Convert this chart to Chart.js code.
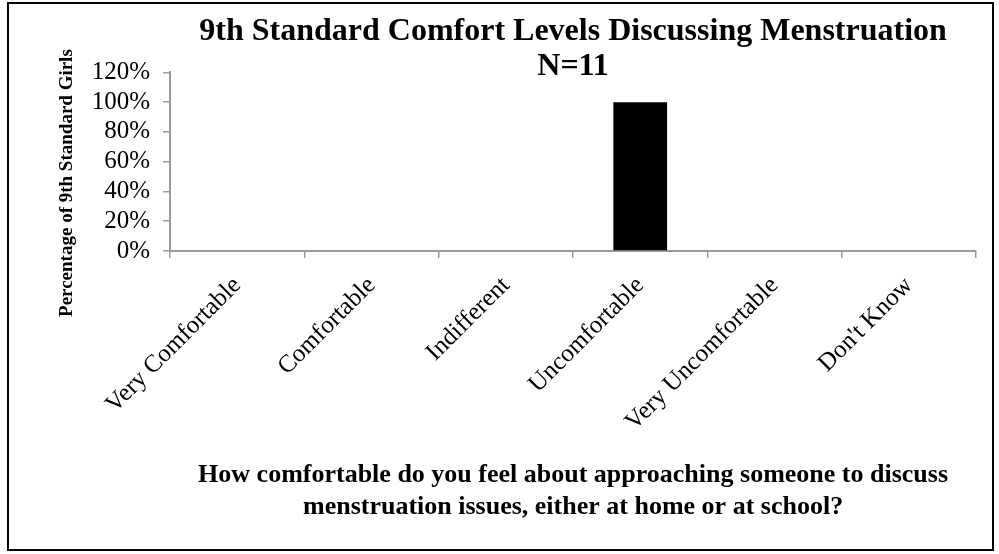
<!DOCTYPE html>
<html>
<head>
<meta charset="utf-8">
<script src="https://cdn.jsdelivr.net/npm/chart.js@4/dist/chart.umd.min.js"></script>
<style>
  body { margin: 0; background: #fff; }
  #wrap { position: relative; width: 999px; height: 554px; }
  #frame { position: absolute; left: 7px; top: 2px; width: 983px; height: 545px; border: 2px solid #000; pointer-events: none; }
</style>
</head>
<body>
<div id="wrap">
  <canvas id="chart" width="999" height="554"></canvas>
  <div id="frame"></div>
</div>
<script>
// data
var categories = ['Very Comfortable', 'Comfortable', 'Indifferent', 'Uncomfortable', 'Very Uncomfortable', "Don't Know"];
var percentGirls = [0, 0, 0, 1, 0, 0];
var yTicks = [0, 0.2, 0.4, 0.6, 0.8, 1.0, 1.2];

var titleLines = ['9th Standard Comfort Levels Discussing Menstruation', 'N=11'];
var xTitle = ['How comfortable do you feel about approaching someone to discuss', 'menstruation issues, either at home or at school?'];
// trailing spaces push the rotated title a bit lower, like the original
var yTitle = 'Percentage of 9th Standard Girls' + '\u00a0\u00a0\u00a0\u00a0\u00a0\u00a0\u00a0\u00a0\u00a0';

var serif = "'Liberation Serif', 'Times New Roman', serif";
var axisGray = '#9a9a9a';

var ctx = document.getElementById('chart');
var chart = new Chart(ctx, {
    type: 'bar',
    data: {
        labels: categories,
        datasets: [{
            data: percentGirls,
            backgroundColor: '#000',
            borderWidth: 0,
            barPercentage: 0.4,
            categoryPercentage: 1.0
        }]
    },
    options: {
        responsive: false,
        animation: false,
        // negative top padding gives the x axis more room (its height is capped at half the canvas)
        layout: { padding: { left: 56, right: 23, top: -26, bottom: 26 } },
        plugins: {
            legend: { display: false },
            tooltip: { enabled: false },
            title: {
                display: true,
                text: titleLines,
                color: '#000',
                fullSize: false,
                font: { family: serif, size: 32, weight: 'bold', lineHeight: 1.1 },
                padding: { top: 40, bottom: -12 }
            }
        },
        scales: {
            x: {
                offset: true,
                grid: {
                    offset: true,
                    drawOnChartArea: false,
                    drawTicks: true,
                    tickLength: 7,
                    color: axisGray,
                    lineWidth: 1.5
                },
                border: { color: axisGray, width: 2 },
                ticks: {
                    color: '#000',
                    font: { family: serif, size: 25 },
                    minRotation: 45,
                    maxRotation: 45,
                    autoSkip: false,
                    padding: 13
                },
                title: {
                    display: true,
                    text: xTitle,
                    color: '#000',
                    font: { family: serif, size: 26, weight: 'bold', lineHeight: 1.25 },
                    padding: { top: 33 }
                }
            },
            y: {
                min: 0,
                max: 1.2,
                afterBuildTicks: function(axis) {
                    axis.ticks = yTicks.map(function(v) { return { value: v }; });
                },
                grid: {
                    drawOnChartArea: false,
                    drawTicks: true,
                    tickLength: 7,
                    color: axisGray,
                    lineWidth: 1.5
                },
                border: { color: axisGray, width: 2 },
                ticks: {
                    color: '#000',
                    font: { family: serif, size: 25 },
                    padding: 13,
                    autoSkip: false,
                    callback: function(v) { return Math.round(v * 100) + '%'; }
                },
                title: {
                    display: true,
                    text: yTitle,
                    color: '#000',
                    font: { family: serif, size: 19, weight: 'bold' },
                    padding: { top: 0, bottom: 0 }
                }
            }
        }
    }
});
</script>
</body>
</html>
